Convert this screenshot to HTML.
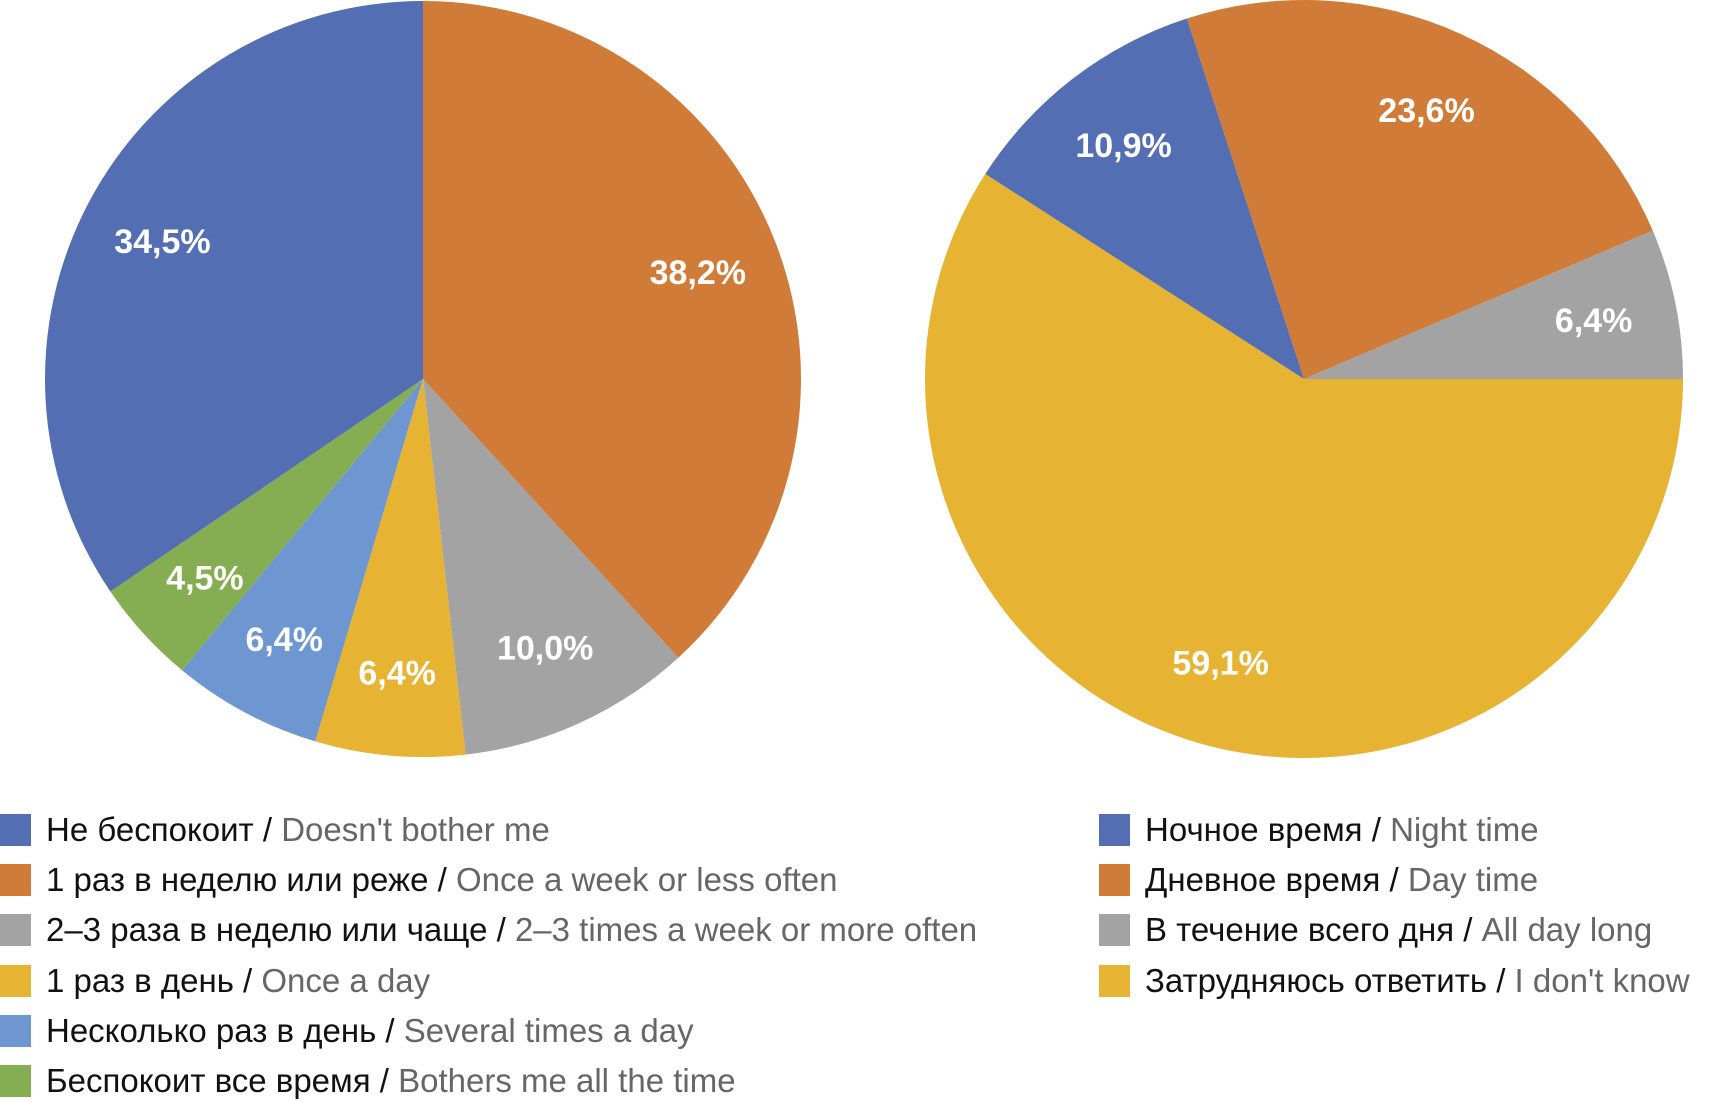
<!DOCTYPE html>
<html><head><meta charset="utf-8"><style>
html,body{margin:0;padding:0;background:#fff;}
#wrap{position:relative;width:1714px;height:1102px;overflow:hidden;font-family:"Liberation Sans Narrow","Liberation Sans","DejaVu Sans Condensed",sans-serif;}
.leg{position:absolute;height:36px;font-size:33px;line-height:36px;white-space:nowrap;color:#111;}
.sw{position:absolute;left:0;top:2px;width:31px;height:32px;}
.lt{position:absolute;left:46px;top:0;}
.en{color:#666;}
</style></head><body>
<div id="wrap">
<svg id="svg" width="1714" height="780" style="position:absolute;left:0;top:0"></svg>
<div id="legL"></div><div id="legR"></div>
</div>
<script>
const leftCats=["Не беспокоит / Doesn't bother me","1 раз в неделю или реже / Once a week or less often","2–3 раза в неделю или чаще / 2–3 times a week or more often","1 раз в день / Once a day","Несколько раз в день / Several times a day","Беспокоит все время / Bothers me all the time"];
const leftVals=[34.5,38.2,10.0,6.4,6.4,4.5];
const leftLabels=["34,5%","38,2%","10,0%","6,4%","6,4%","4,5%"];
const rightCats=["Ночное время / Night time","Дневное время / Day time","В течение всего дня / All day long","Затрудняюсь ответить / I don't know"];
const rightVals=[10.9,23.6,6.4,59.1];
const rightLabels=["10,9%","23,6%","6,4%","59,1%"];
const leftColors=["#546eb3","#d07b37","#a3a3a3","#e6b332","#6e96d0","#85ad51"];
const rightColors=["#546eb3","#d07b37","#a3a3a3","#e6b332"];
const svg=document.getElementById('svg');
const NS="http://www.w3.org/2000/svg";
// draw order (clockwise) and start angle in degrees from top
function pie(vals,labels,colors,order,start,cx,cy,r,prefix){
  const total=vals.reduce((a,b)=>a+b,0);
  let a=start;
  order.forEach(i=>{
    const sweep=vals[i]/total*360;
    const a0=a*Math.PI/180,a1=(a+sweep)*Math.PI/180;
    const x0=cx+r*Math.sin(a0),y0=cy-r*Math.cos(a0),x1=cx+r*Math.sin(a1),y1=cy-r*Math.cos(a1);
    const p=document.createElementNS(NS,'path');
    p.setAttribute('d',`M${cx},${cy}L${x0},${y0}A${r},${r} 0 ${sweep>180?1:0} 1 ${x1},${y1}Z`);
    p.setAttribute('fill',colors[i]);
    
    
    svg.appendChild(p);
    const m=(a+sweep/2)*Math.PI/180, lr=r*0.78;
    const t=document.createElementNS(NS,'text');
    t.setAttribute('x',cx+lr*Math.sin(m));t.setAttribute('y',cy-lr*Math.cos(m)+12);
    t.setAttribute('text-anchor','middle');t.setAttribute('fill','#fff');
    t.setAttribute('font-size','34');t.setAttribute('font-weight','bold');
    t.setAttribute('font-family','"Liberation Sans Narrow","Liberation Sans",sans-serif');
    t.textContent=labels[i];
    
    
    svg.appendChild(t);
    a+=sweep;
  });
}
pie(leftVals,leftLabels,leftColors,[1,2,3,4,5,0],0,423,379,378,'left');
pie(rightVals,rightLabels,rightColors,[3,0,1,2],90,1304,379,379,'right');
function legend(id,cats,colors,x,prefix){
  const host=document.getElementById(id);
  cats.forEach((c,i)=>{
    const d=document.createElement('div');d.className='leg';
    d.style.left=x+'px';d.style.top=(812+i*50.2)+'px';
    
    
    const parts=c.split(' / ');
    d.innerHTML=`<span class="sw" style="background:${colors[i]}"></span><span class="lt">${parts[0]} / <span class="en">${parts[1]}</span></span>`;
    host.appendChild(d);
  });
}
legend('legL',leftCats,leftColors,0,'left');
legend('legR',rightCats,rightColors,1099,'right');
</script>
</body></html>
